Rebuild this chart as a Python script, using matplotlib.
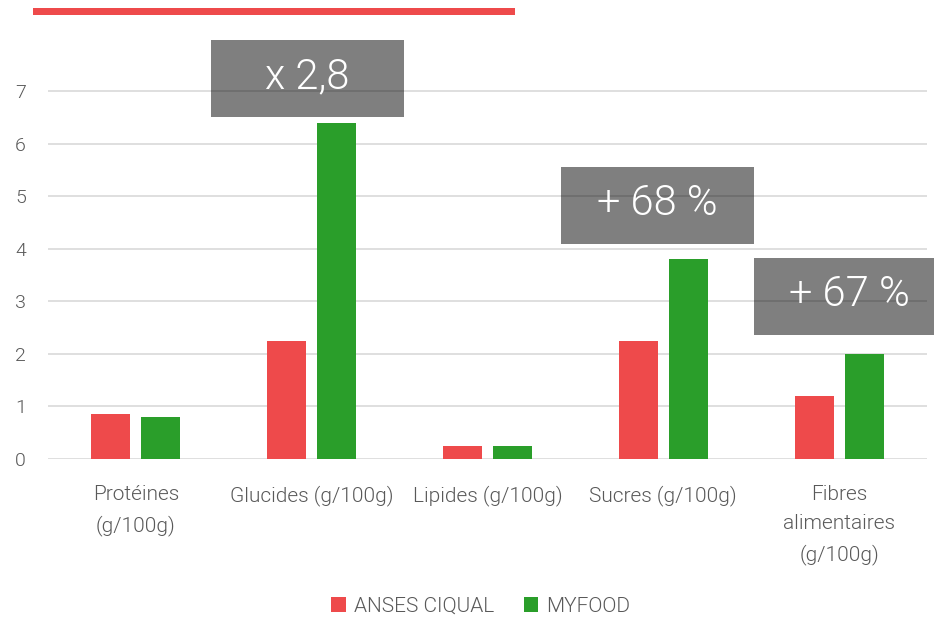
import matplotlib
matplotlib.use("Agg")
import matplotlib.pyplot as plt
from matplotlib.patches import Rectangle
import numpy as np

categories = ["Protéines\n(g/100g)", "Glucides (g/100g)", "Lipides (g/100g)",
              "Sucres (g/100g)", "Fibres\nalimentaires\n(g/100g)"]
anses = [0.86, 2.25, 0.25, 2.25, 1.2]
myfood = [0.80, 6.4, 0.25, 3.8, 2.0]
series_names = ["ANSES CIQUAL", "MYFOOD"]
yticks = [0, 1, 2, 3, 4, 5, 6, 7]
annotations = ["x 2,8", "+ 68 %", "+ 67 %"]

RED = "#EE4A4B"
GREEN = "#2A9E2A"
TXT = "#595959"
FONT = "Roboto"
WT = 300

plt.rcParams['font.family'] = [FONT, 'DejaVu Sans']

fig = plt.figure(figsize=(9.34, 6.17), dpi=100)
ax = fig.add_axes([48/934, 158/617, (927-48)/934, (459-38.4)/617])

x = np.arange(len(categories))
w = 0.222
off = 0.142
ax.bar(x - off, anses, w, color=RED, label=series_names[0], zorder=2)
ax.bar(x + off, myfood, w, color=GREEN, label=series_names[1], zorder=2)

ax.set_xlim(-0.5, len(categories) - 0.5)
ax.set_ylim(0, 8)
ax.set_yticks(yticks)
ax.set_yticklabels([str(t) for t in yticks], fontsize=14, color=TXT, fontweight=WT)
ax.yaxis.grid(True, color="#D9D9D9", linewidth=1.2, zorder=0)
ax.set_axisbelow(True)
ax.tick_params(axis='both', length=0)
ax.tick_params(axis='y', pad=16)
ax.tick_params(axis='x', pad=19)
ax.set_xticks(x)
ax.set_xticklabels(categories, fontsize=15, color=TXT, fontweight=WT, linespacing=1.65)
for s in ax.spines.values():
    s.set_visible(False)

# annotation boxes (x in category units, y in data units)
boxes = [(0.427, 1.525, 6.5, 7.97), (2.418, 3.516, 4.09, 5.55), (3.516, 4.597, 2.36, 3.82)]
for (x0, x1, y0, y1), txt in zip(boxes, annotations):
    r = Rectangle((x0, y0), x1 - x0, y1 - y0, facecolor="black", alpha=0.5,
                  edgecolor="none", zorder=3, clip_on=False)
    ax.add_patch(r)
    ax.text((x0 + x1) / 2, (y0 + y1) / 2 + 0.04, txt, ha='center', va='center',
            color='white', fontsize=30, fontweight=WT, zorder=4, clip_on=False)

# red line at top
fig.add_artist(Rectangle((33/934, 1 - 15/617), (515-33)/934, 7/617,
                         transform=fig.transFigure, facecolor=RED, edgecolor='none'))

fig.legend(loc='center', bbox_to_anchor=(481/934, 1 - 606/617), ncol=2, frameon=False,
           handlelength=0.7, handleheight=0.7, handletextpad=0.4, columnspacing=1.4,
           prop={'family': FONT, 'size': 15, 'weight': WT}, labelcolor=TXT)

fig.savefig("out.png", dpi=100)
